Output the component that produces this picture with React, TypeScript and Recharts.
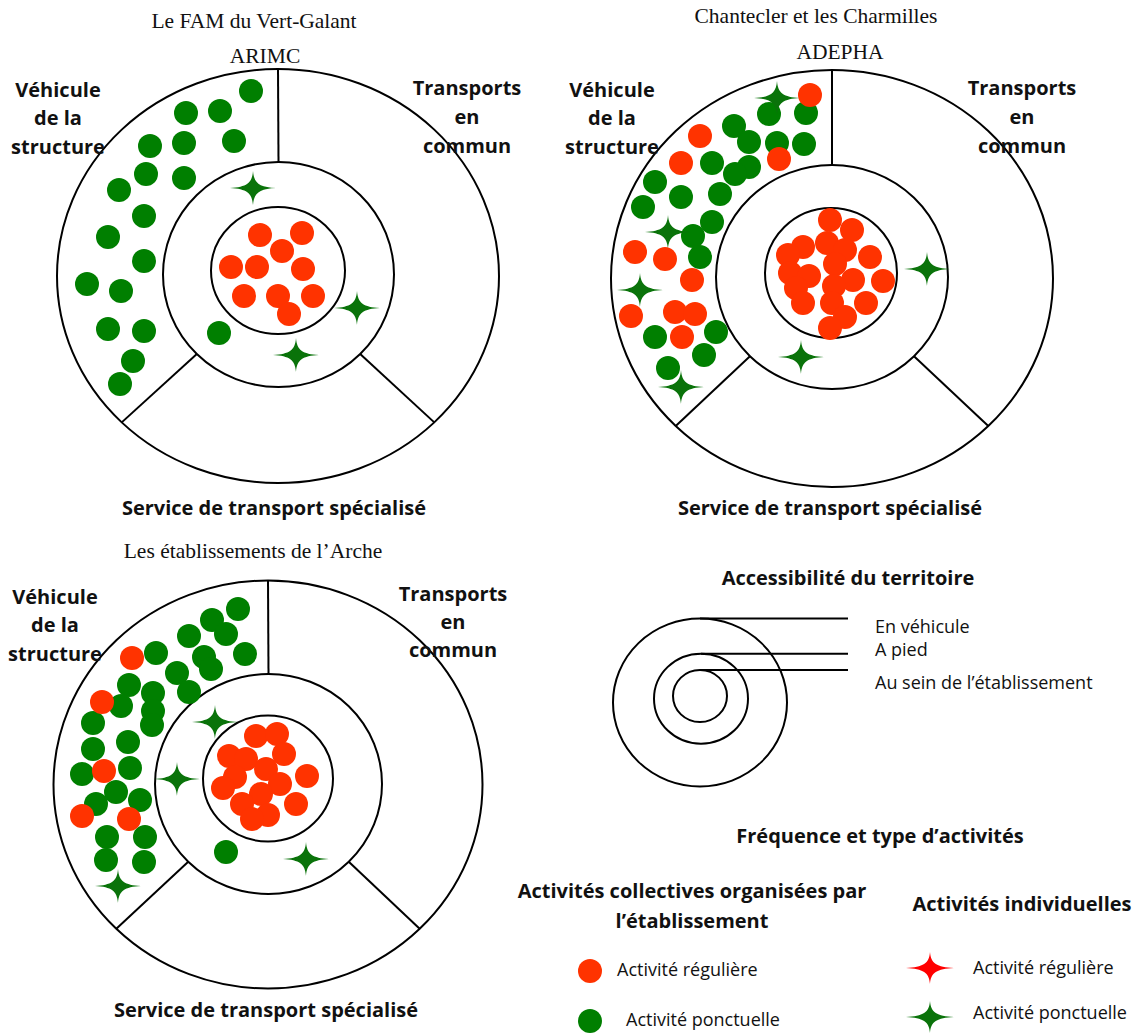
import { ReferenceDot, ReferenceLine, Scatter, ScatterChart, XAxis, YAxis } from "recharts";

const RED = "#ff3300";
const GREEN = "#007f00";
const STAR_GREEN = "#0a730a";
const STAR_RED = "#ff0000";
const SANS = "'Open Sans', 'DejaVu Sans', sans-serif";
const SERIF = "'Liberation Serif', 'Times New Roman', serif";

// positions des activités, relatives au centre de chaque cible (x vers la droite, y vers le bas)

// Le FAM du Vert-Galant (ARIMC)
const famRegular = [
  [-18, -40], [24, -42], [4, -24], [-47, -8], [-21, -8], [25, -6],
  [-34, 21], [0, 21], [35, 21], [11, 39],
];
const famPonctual = [
  [-27, -184], [-92, -162], [-58, -164], [-128, -129], [-94, -132], [-44, -134],
  [-132, -101], [-94, -97], [-159, -85], [-134, -59], [-170, -38], [-134, -14],
  [-191, 9], [-157, 16], [-170, 54], [-134, 56], [-145, 86], [-158, 109], [-59, 58],
];
const famIndividual = [[-25, -87], [79, 33], [18, 80]];

// Chantecler et les Charmilles (ADEPHA)
const chantRegular = [
  [-22, -183], [-132, -142], [-151, -115], [-53, -119], [-197, -26], [-167, -19],
  [-140, 2], [-201, 38], [-157, 34], [-137, 36], [-150, 59],
  [-2, -58], [20, -48], [-29, -31], [-5, -35], [13, -28], [-44, -23], [38, -21],
  [3, -14], [-42, -5], [-23, -2], [21, 2], [51, 3], [2, 8], [-36, 10],
  [-29, 25], [0, 25], [34, 25], [13, 39], [-2, 50],
];
const chantPonctual = [
  [-63, -164], [-26, -165], [-98, -152], [-83, -136], [-55, -135], [-28, -134],
  [-120, -115], [-83, -111], [-97, -104], [-177, -96], [-151, -81], [-112, -84],
  [-189, -71], [-120, -56], [-139, -42], [-132, -21], [-177, 59], [-116, 54],
  [-128, 77], [-164, 90],
];
const chantIndividual = [[-55, -180], [-164, -46], [-192, 12], [-151, 109], [95, -9], [-31, 79]];

// Les établissements de l'Arche
const archeRegular = [
  [-136, -126], [-166, -82], [-164, -13], [-186, 32], [-139, 35],
  [-12, -48], [9, -50], [16, -30], [-39, -28], [-22, -25], [-2, -15], [-33, -7],
  [39, -8], [12, 0], [-45, 4], [-7, 10], [28, 20], [-26, 20], [0, 31], [-16, 35],
];
const archePonctual = [
  [-30, -175], [-56, -164], [-42, -150], [-79, -148], [-23, -130], [-112, -131],
  [-64, -127], [-57, -115], [-91, -111], [-79, -92], [-139, -99], [-115, -91],
  [-147, -78], [-115, -73], [-116, -59], [-175, -61], [-140, -42], [-175, -35],
  [-138, -16], [-186, -10], [-152, 8], [-128, 16], [-172, 20], [-161, 53],
  [-123, 53], [-162, 76], [-124, 78], [-42, 68],
];
const archeIndividual = [[-53, -62], [-91, -5], [38, 75], [-150, 102]];

type Ring = { dx: number; dy: number; rx: number; ry: number };
type Layout = { left: number; top: number; width: number; height: number; cx: number; cy: number; rings: Ring[] };

const famLayout: Layout = {
  left: 0, top: 0, width: 545, height: 525, cx: 278, cy: 275,
  rings: [
    { dx: 0, dy: 1, rx: 221, ry: 207 },
    { dx: 0.5, dy: -0.5, rx: 115.5, ry: 112.5 },
    { dx: 0, dy: -4.5, rx: 67, ry: 63.5 },
  ],
};
const chantLayout: Layout = {
  left: 560, top: 0, width: 575, height: 525, cx: 832, cy: 278,
  rings: [
    { dx: 0, dy: 0.5, rx: 221, ry: 208.5 },
    { dx: 0, dy: -1, rx: 116, ry: 112 },
    { dx: -1, dy: -5, rx: 66, ry: 65 },
  ],
};
const archeLayout: Layout = {
  left: 0, top: 530, width: 545, height: 504, cx: 268, cy: 784,
  rings: [
    { dx: 0, dy: 0.5, rx: 214.5, ry: 204 },
    { dx: 0.5, dy: 0, rx: 113.5, ry: 110 },
    { dx: 0, dy: -5.5, rx: 65, ry: 63 },
  ],
};

const toPoints = (arr: number[][]) => arr.map(([x, y]) => ({ x, y }));

// étoile à quatre branches, branches horizontales plus longues
function starPath(cx: number, cy: number, w: number, h: number) {
  const a = 0.9;
  const kx = w * 0.28;
  const ky = h * 0.28;
  return `M${cx - w},${cy} C${cx - kx},${cy - a} ${cx - a},${cy - ky} ${cx},${cy - h} C${cx + a},${cy - ky} ${cx + kx},${cy - a} ${cx + w},${cy} C${cx + kx},${cy + a} ${cx + a},${cy + ky} ${cx},${cy + h} C${cx - a},${cy + ky} ${cx - kx},${cy + a} ${cx - w},${cy} Z`;
}

const dotShape = (color: string) => (p: any) => <circle cx={p.cx} cy={p.cy} r={12} fill={color} />;
const starShape = (color: string, w = 23, h = 17) => (p: any) => <path d={starPath(p.cx, p.cy, w, h)} fill={color} />;

function Target({ layout, regular, ponctual, individual }: { layout: Layout; regular: number[][]; ponctual: number[][]; individual: number[][] }) {
  const { left, top, width, height, cx, cy, rings } = layout;
  const [outer, mid] = rings;
  const onRing = (r: Ring, deg: number) => ({
    x: r.dx + r.rx * Math.cos((deg * Math.PI) / 180),
    y: r.dy + r.ry * Math.sin((deg * Math.PI) / 180),
  });
  const dividers = [-90, 135, 45].map((deg) => [onRing(mid, deg), onRing(outer, deg)]);
  return (
    <div style={{ position: "absolute", left, top }}>
      <ScatterChart width={width} height={height} margin={{ top: 0, right: 0, bottom: 0, left: 0 }}>
        <XAxis type="number" dataKey="x" domain={[left - cx, left - cx + width]} allowDataOverflow hide />
        <YAxis type="number" dataKey="y" domain={[top - cy, top - cy + height]} allowDataOverflow reversed hide />
        {rings.map((r, i) => (
          <ReferenceDot
            key={i}
            x={r.dx}
            y={r.dy}
            r={1}
            ifOverflow="visible"
            shape={(p: any) => <ellipse cx={p.cx} cy={p.cy} rx={r.rx} ry={r.ry} fill="none" stroke="#000" strokeWidth={2} />}
          />
        ))}
        {dividers.map((seg, i) => (
          <ReferenceLine key={i} segment={seg} stroke="#000" strokeWidth={2} ifOverflow="visible" />
        ))}
        <Scatter data={toPoints(ponctual)} shape={dotShape(GREEN)} isAnimationActive={false} />
        <Scatter data={toPoints(individual)} shape={starShape(STAR_GREEN)} isAnimationActive={false} />
        <Scatter data={toPoints(regular)} shape={dotShape(RED)} isAnimationActive={false} />
      </ScatterChart>
    </div>
  );
}

// légende : cercles d'accessibilité
const legendRings = [
  { x: 700, y: 702.5, rx: 87, ry: 84 },
  { x: 701, y: 698.7, rx: 47, ry: 45 },
  { x: 700, y: 696, rx: 27, ry: 26 },
];
const legendSymbols = [
  { x: 590, y: 971, kind: "regular" },
  { x: 590, y: 1021, kind: "ponctual" },
  { x: 930, y: 968, kind: "indivRegular" },
  { x: 930, y: 1017, kind: "indivPonctual" },
];

function LegendChart() {
  const left = 560, top = 590, width = 575, height = 444;
  return (
    <div style={{ position: "absolute", left, top }}>
      <ScatterChart width={width} height={height} margin={{ top: 0, right: 0, bottom: 0, left: 0 }}>
        <XAxis type="number" dataKey="x" domain={[left, left + width]} allowDataOverflow hide />
        <YAxis type="number" dataKey="y" domain={[top, top + height]} allowDataOverflow reversed hide />
        {legendRings.map((r, i) => (
          <ReferenceDot
            key={i}
            x={r.x}
            y={r.y}
            r={1}
            ifOverflow="visible"
            shape={(p: any) => <ellipse cx={p.cx} cy={p.cy} rx={r.rx} ry={r.ry} fill="none" stroke="#000" strokeWidth={2} />}
          />
        ))}
        {legendRings.map((r, i) => (
          <ReferenceLine
            key={`l${i}`}
            segment={[{ x: r.x, y: r.y - r.ry }, { x: 848, y: r.y - r.ry }]}
            stroke="#000"
            strokeWidth={2}
            ifOverflow="visible"
          />
        ))}
        <Scatter data={legendSymbols.filter((s) => s.kind === "regular")} shape={dotShape(RED)} isAnimationActive={false} />
        <Scatter data={legendSymbols.filter((s) => s.kind === "ponctual")} shape={dotShape(GREEN)} isAnimationActive={false} />
        <Scatter data={legendSymbols.filter((s) => s.kind === "indivRegular")} shape={starShape(STAR_RED, 24, 16)} isAnimationActive={false} />
        <Scatter data={legendSymbols.filter((s) => s.kind === "indivPonctual")} shape={starShape(STAR_GREEN, 24, 16)} isAnimationActive={false} />
      </ScatterChart>
    </div>
  );
}

type LabelProps = { x: number; y: number; lines: string[]; size?: number; weight?: number; family?: string; align?: "center" | "left"; gap?: number };

function Label({ x, y, lines, size = 20, weight = 700, family = SANS, align = "center", gap }: LabelProps) {
  const lh = gap ?? size * 1.2;
  return (
    <div
      style={{
        position: "absolute",
        left: align === "center" ? x - 300 : x,
        top: y - lh / 2,
        width: align === "center" ? 600 : undefined,
        textAlign: align,
        fontFamily: family,
        fontWeight: weight,
        fontSize: size,
        lineHeight: `${lh}px`,
        whiteSpace: "nowrap",
        color: "#111",
      }}
    >
      {lines.map((l, i) => (
        <div key={i}>{l}</div>
      ))}
    </div>
  );
}

const VEHICULE = ["Véhicule", "de la", "structure"];
const TRANSPORTS = ["Transports", "en", "commun"];
const SERVICE = ["Service de transport spécialisé"];

export default function App() {
  return (
    <div style={{ position: "absolute", left: 0, top: 0, width: 1135, height: 1034, background: "#fff", overflow: "hidden" }}>
      <Target layout={famLayout} regular={famRegular} ponctual={famPonctual} individual={famIndividual} />
      <Target layout={chantLayout} regular={chantRegular} ponctual={chantPonctual} individual={chantIndividual} />
      <Target layout={archeLayout} regular={archeRegular} ponctual={archePonctual} individual={archeIndividual} />
      <LegendChart />

      {/* titres des établissements */}
      <Label x={254} y={22} lines={["Le FAM du Vert-Galant"]} size={21.5} weight={400} family={SERIF} />
      <Label x={265} y={57} lines={["ARIMC"]} size={21.5} weight={400} family={SERIF} />
      <Label x={816} y={17} lines={["Chantecler et les Charmilles"]} size={21.5} weight={400} family={SERIF} />
      <Label x={840} y={53} lines={["ADEPHA"]} size={21.5} weight={400} family={SERIF} />
      <Label x={253} y={552} lines={["Les établissements de l’Arche"]} size={21.5} weight={400} family={SERIF} />

      {/* secteurs */}
      <Label x={58} y={90} lines={VEHICULE} gap={28.5} />
      <Label x={467} y={87} lines={TRANSPORTS} gap={29} />
      <Label x={274} y={508} lines={SERVICE} />
      <Label x={612} y={90} lines={VEHICULE} gap={28.5} />
      <Label x={1022} y={87} lines={TRANSPORTS} gap={29} />
      <Label x={830} y={508} lines={SERVICE} />
      <Label x={55} y={597} lines={VEHICULE} gap={28.5} />
      <Label x={453} y={594} lines={TRANSPORTS} gap={28} />
      <Label x={266} y={1010} lines={SERVICE} />

      {/* légende */}
      <Label x={848} y={578} lines={["Accessibilité du territoire"]} />
      <Label x={875} y={627} lines={["En véhicule"]} size={18} weight={400} align="left" />
      <Label x={875} y={650} lines={["A pied"]} size={18} weight={400} align="left" />
      <Label x={875} y={683} lines={["Au sein de l’établissement"]} size={18} weight={400} align="left" />
      <Label x={880} y={836} lines={["Fréquence et type d’activités"]} />
      <Label x={692} y={891} lines={["Activités collectives organisées par", "l’établissement"]} gap={29.5} />
      <Label x={1022} y={904} lines={["Activités individuelles"]} />
      <Label x={617} y={970} lines={["Activité régulière"]} size={18} weight={400} align="left" />
      <Label x={626} y={1020} lines={["Activité ponctuelle"]} size={18} weight={400} align="left" />
      <Label x={973} y={968} lines={["Activité régulière"]} size={18} weight={400} align="left" />
      <Label x={973} y={1013} lines={["Activité ponctuelle"]} size={18} weight={400} align="left" />
    </div>
  );
}
